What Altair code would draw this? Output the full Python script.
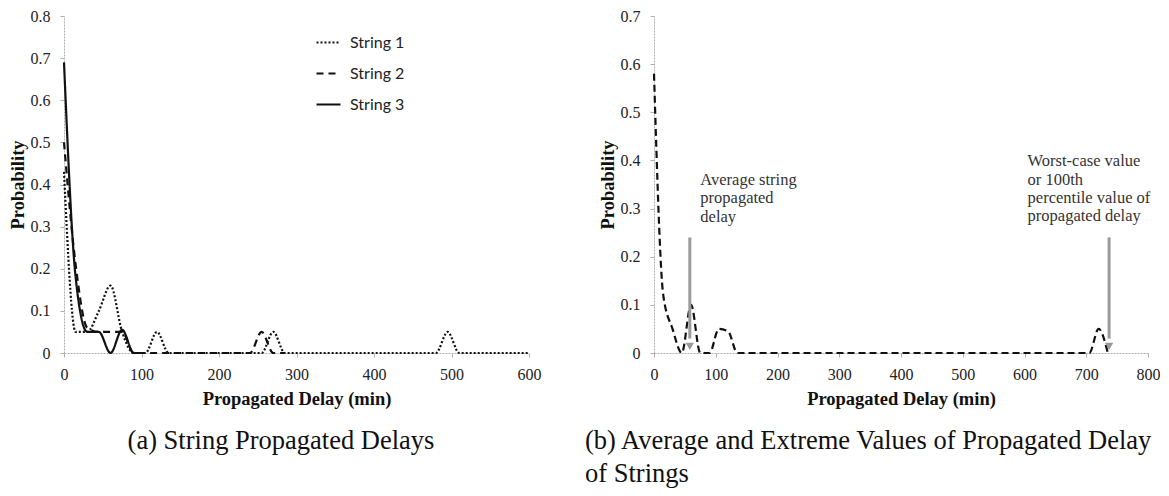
import altair as alt
import pandas as pd

# ---------------- Panel (a): String propagated delays ----------------
s1_x = [0, 15, 30, 45, 60, 75, 90, 105, 120, 135, 255, 270, 285, 480, 495, 510, 600]
s1_y = [0.43, 0.05, 0.05, 0.10, 0.16, 0.05, 0, 0, 0.05, 0, 0, 0.05, 0, 0, 0.05, 0, 0]
s2_x = [0, 15, 30, 45, 60, 75, 90, 105, 240, 255, 270, 285]
s2_y = [0.50, 0.21, 0.06, 0.05, 0.05, 0.05, 0, 0, 0, 0.05, 0, 0]
s3_x = [0, 15, 30, 45, 60, 75, 90, 105]
s3_y = [0.69, 0.18, 0.05, 0.05, 0, 0.055, 0, 0]
series_names = ["String 1", "String 2", "String 3"]

# ---------------- Panel (b): average and extreme values ----------------
b_x = [0, 15, 30, 45, 60, 75, 90, 105, 120, 135, 150, 705, 720, 735]
b_y = [0.58, 0.12, 0.05, 0, 0.10, 0, 0, 0.05, 0.045, 0, 0, 0, 0.05, 0]
arrow_x = [58, 737]
arrow_top = [0.24, 0.24]
arrow_bottom = [0.03, 0.03]
arrow_head = [0.014, 0.014]
note_x = [75, 605]
note_y = [0.376, 0.415]
note_text = [
    ["Average string", "propagated", "delay"],
    ["Worst-case value", "or 100th", "percentile value of", "propagated delay"],
]

caption_a = "(a)  String Propagated Delays"
caption_b1 = "(b)  Average and Extreme Values of Propagated Delays"
caption_b2 = "of Strings"

SERIF = "Liberation Serif"
LINE_C = "#111111"
ARROW_C = "#9a9a9a"

rows = []
for name, xs, ys in zip(series_names, [s1_x, s2_x, s3_x], [s1_y, s2_y, s3_y]):
    for x, y in zip(xs, ys):
        rows.append({"delay": x, "prob": y, "series": name})
df_a = pd.DataFrame(rows)
df_b = pd.DataFrame({"delay": b_x, "prob": b_y})
df_arrow = pd.DataFrame({"x": arrow_x, "top": arrow_top, "bottom": arrow_bottom, "head": arrow_head})

W_A, W_B, H = 465, 494, 337

def xaxis(vals):
    return alt.Axis(values=vals, title="Propagated Delay (min)", labelPadding=9,
                    titlePadding=7, labelFlush=False)

def yaxis(vals):
    return alt.Axis(values=vals, format="~g", title="Probability", labelPadding=10, titlePadding=3)

lines_a = alt.Chart(df_a).mark_line(interpolate="monotone", strokeWidth=2.2, color=LINE_C).encode(
    x=alt.X("delay:Q", scale=alt.Scale(domain=[0, 600], nice=False),
            axis=xaxis([0, 100, 200, 300, 400, 500, 600])),
    y=alt.Y("prob:Q", scale=alt.Scale(domain=[0, 0.8], nice=False),
            axis=yaxis([0, 0.1, 0.2, 0.3, 0.4, 0.5, 0.6, 0.7, 0.8])),
    strokeDash=alt.StrokeDash(
        "series:N",
        scale=alt.Scale(domain=series_names, range=[[2, 2], [7, 5], [1, 0]]),
        legend=alt.Legend(
            title=None, orient="none", legendX=251, legendY=13, direction="vertical",
            symbolType="stroke", symbolSize=576, symbolStrokeWidth=2.2,
            symbolStrokeColor=LINE_C, labelFont="Lato", labelFontSize=16,
            labelColor="#222", labelOffset=8, rowPadding=9, padding=0,
        ),
    ),
)

cap_a = alt.Chart(pd.DataFrame({"t": [caption_a]})).mark_text(
    font=SERIF, fontSize=26.5, align="center", baseline="middle", color="#111"
).encode(x=alt.value(217), y=alt.value(425), text="t:N")

panel_a = alt.layer(lines_a, cap_a).properties(width=W_A, height=H)

line_b = alt.Chart(df_b).mark_line(interpolate="monotone", strokeWidth=2.2, color=LINE_C,
                                   strokeDash=[7, 4]).encode(
    x=alt.X("delay:Q", scale=alt.Scale(domain=[0, 800], nice=False),
            axis=xaxis([0, 100, 200, 300, 400, 500, 600, 700, 800])),
    y=alt.Y("prob:Q", scale=alt.Scale(domain=[0, 0.7], nice=False),
            axis=yaxis([0, 0.1, 0.2, 0.3, 0.4, 0.5, 0.6, 0.7])),
)

shafts = alt.Chart(df_arrow).mark_rule(color=ARROW_C, strokeWidth=3).encode(
    x="x:Q", y="top:Q", y2="bottom:Q"
)
heads = alt.Chart(df_arrow).mark_point(shape="triangle-down", filled=True, color=ARROW_C,
                                       size=70, opacity=1).encode(x="x:Q", y="head:Q")

notes = []
for nx, ny, nt in zip(note_x, note_y, note_text):
    notes.append(
        alt.Chart(pd.DataFrame({"x": [nx], "y": [ny]})).mark_text(
            font=SERIF, fontSize=16.5, align="left", baseline="top", color="#333",
            lineHeight=18.3, text=nt,
        ).encode(x="x:Q", y="y:Q")
    )

cap_b1 = alt.Chart(pd.DataFrame({"t": [caption_b1]})).mark_text(
    font=SERIF, fontSize=26.5, align="left", baseline="middle", color="#111",
    limit=583, ellipsis="\u200b"
).encode(x=alt.value(-69), y=alt.value(425), text="t:N")
cap_b2 = alt.Chart(pd.DataFrame({"t": [caption_b2]})).mark_text(
    font=SERIF, fontSize=26.5, align="left", baseline="middle", color="#111"
).encode(x=alt.value(-69), y=alt.value(458), text="t:N")

panel_b = alt.layer(line_b, shafts, heads, *notes, cap_b1, cap_b2).properties(width=W_B, height=H)

chart = alt.hconcat(panel_a, panel_b, spacing=44).properties(
    padding={"left": 0, "top": 0, "right": 0, "bottom": 0},
    background="white",
).configure_view(stroke=None).configure_axis(
    grid=False,
    domainColor="#b0b0b0", domainDash=[2, 1], domainWidth=1,
    tickColor="#b0b0b0", tickSize=4,
    labelFont=SERIF, labelFontSize=16, labelColor="#222",
    titleFont=SERIF, titleFontSize=18.5, titleFontWeight="bold", titleColor="#111",
)

chart.save("out.html", embed_options={"renderer": "svg", "actions": False})
